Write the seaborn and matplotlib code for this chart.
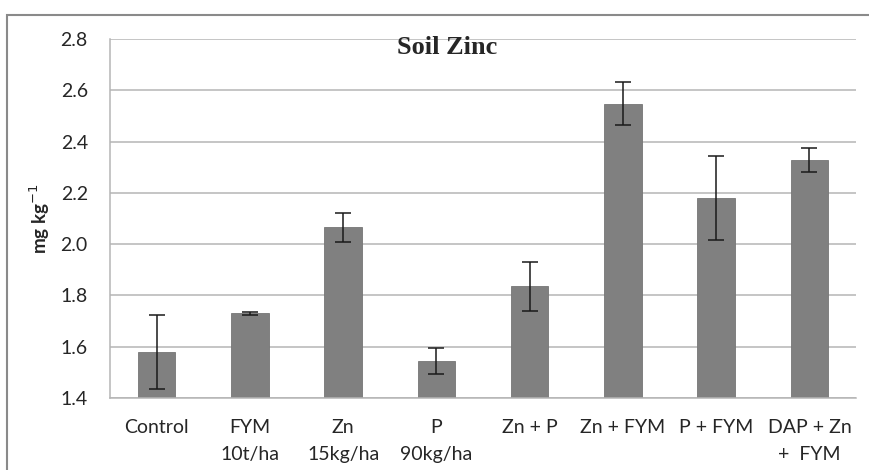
import numpy as np
import pandas as pd
import seaborn as sns
import matplotlib.pyplot as plt
from matplotlib.patches import Rectangle

treatments = ["Control", "FYM\n10t/ha", "Zn\n15kg/ha", "P\n90kg/ha",
              "Zn + P", "Zn + FYM", "P + FYM", "DAP + Zn\n+  FYM"]
zinc = [1.58, 1.73, 2.065, 1.545, 1.835, 2.548, 2.18, 2.327]
zinc_err = [0.145, 0.005, 0.058, 0.05, 0.095, 0.085, 0.162, 0.046]

df = pd.DataFrame({"treatment": treatments, "zinc": zinc})

sns.set_style("white")
plt.rcParams['font.family'] = ['Lato', 'DejaVu Sans']

fig = plt.figure(figsize=(8.69, 4.70), dpi=100)
ax = fig.add_axes([110 / 869, 1 - 398 / 470, 746 / 869, 359 / 470])

sns.barplot(data=df, x="treatment", y="zinc", color="#808080", saturation=1,
            width=0.4, errorbar=None, edgecolor="#767676", linewidth=0.6, ax=ax)
ax.errorbar(np.arange(len(zinc)), zinc, yerr=zinc_err, fmt="none",
            ecolor="#1a1a1a", elinewidth=1.1, capsize=5.5, capthick=1.1)

ax.set_ylim(1.4, 2.8)
ax.set_xlim(-0.5, len(zinc) - 0.5)
ax.set_yticks(np.arange(1.4, 2.81, 0.2))
ax.set_yticklabels([f"{v:.1f}" for v in np.arange(1.4, 2.81, 0.2)], fontsize=14)
ax.yaxis.grid(True, color="#b5b5b5", linewidth=1.1)
ax.set_axisbelow(True)

ax.set_xticks(np.arange(len(treatments)))
ax.set_xticklabels(treatments, fontsize=14, linespacing=1.75,
                   multialignment="center", va="top")
ax.tick_params(axis="x", which="major", length=0, pad=15)
ax.set_xticks(np.arange(-0.5, len(zinc)), minor=True)
ax.tick_params(axis="x", which="minor", length=7, color="#b5b5b5", width=1.1)
ax.tick_params(axis="y", length=7, color="#b5b5b5", width=1.1, pad=9)

for s in ["top", "right"]:
    ax.spines[s].set_visible(False)
for s in ["left", "bottom"]:
    ax.spines[s].set_color("#b5b5b5")
    ax.spines[s].set_linewidth(1.1)

ax.set_xlabel("")
ax.set_ylabel("mg kg$^{-1}$", fontsize=13.5, fontweight="bold", labelpad=6)

fig.text(447 / 869, 1 - 47 / 470, "Soil Zinc", family="Liberation Serif",
         fontsize=19, fontweight="bold", ha="center", va="center")

fig.patches.append(Rectangle((7 / 869, -0.1), 1.1, 1 - 15 / 470 + 0.1,
                             transform=fig.transFigure, fill=False,
                             edgecolor="#8a8a8a", linewidth=1.5, zorder=0))

fig.savefig("out.png", dpi=100)
